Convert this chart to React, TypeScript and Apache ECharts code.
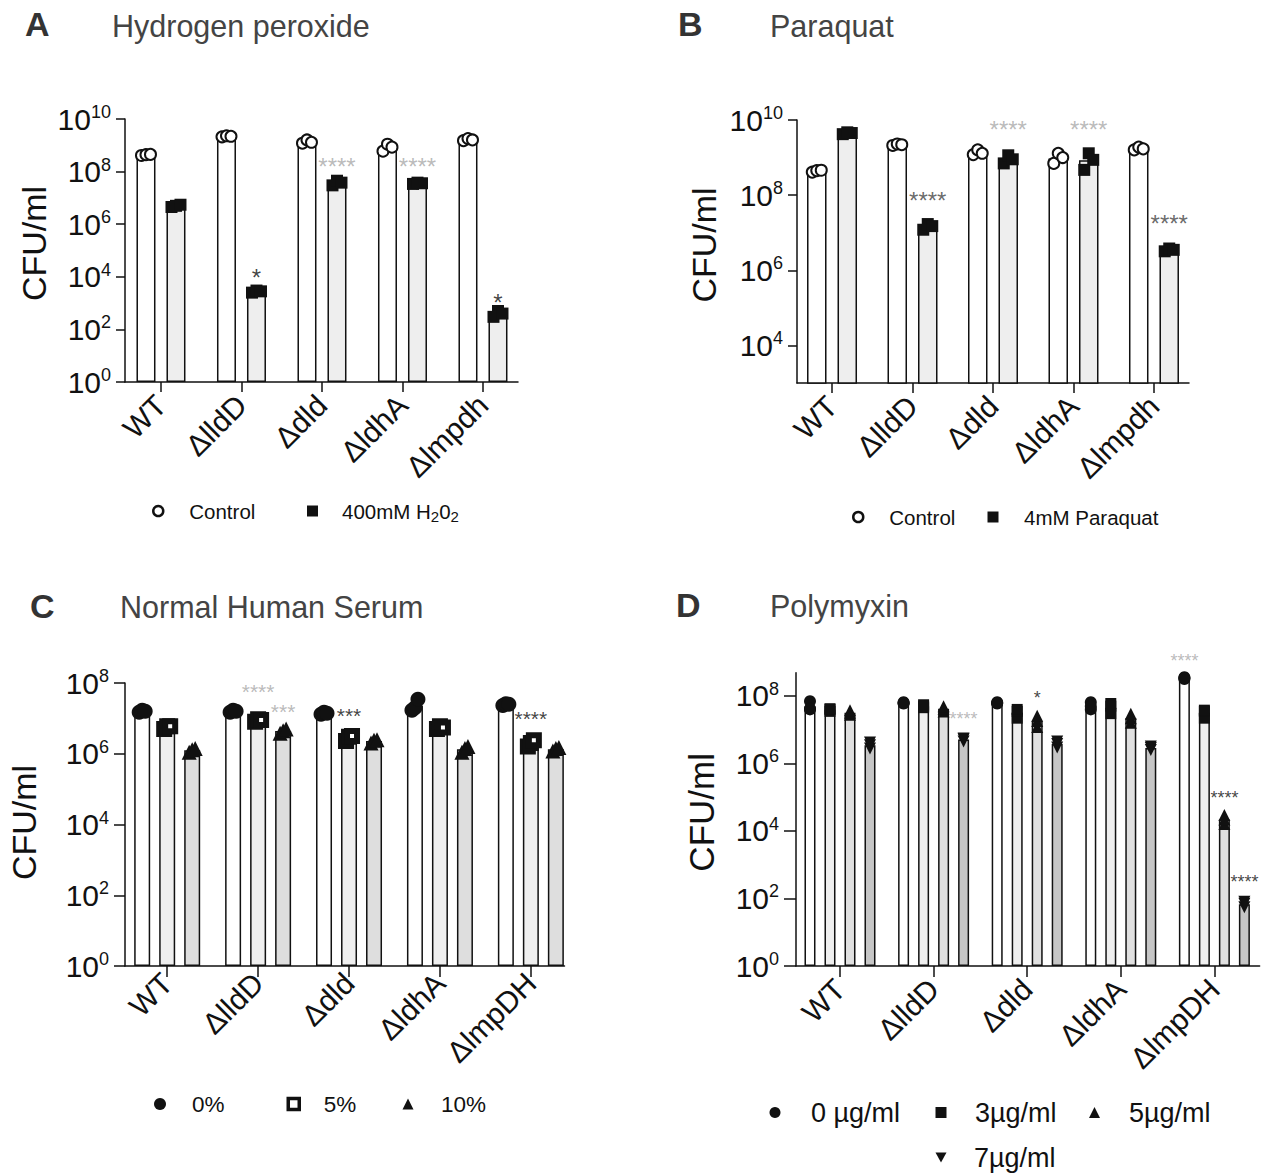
import React, { useEffect, useRef } from 'react';
import * as echarts from 'echarts';

const FONT = '"Liberation Sans", Arial, Helvetica, sans-serif';
const INK = '#111111';
const TONES: Record<string, string> = { black: '#111111', gray: '#a9a9a9', dark: '#444444' };

// ---------- categories & ticks ----------
const catsAB = ['WT', 'ΔlldD', 'Δdld', 'ΔldhA', 'Δlmpdh'];
const catsCD = ['WT', 'ΔlldD', 'Δdld', 'ΔldhA', 'ΔlmpDH'];
const yTicksA = [0, 2, 4, 6, 8, 10];
const yTicksB = [4, 6, 8, 10];
const yTicksCD = [0, 2, 4, 6, 8];

// ---------- A: Hydrogen peroxide (CFU/ml) ----------
const aControlMean = [4.3e8, 2.2e9, 1.35e9, 8.5e8, 1.6e9];
const aControlReps = [[4.1e8, 4.4e8, 4.5e8], [2.1e9, 2.3e9, 2.2e9], [1.2e9, 1.6e9, 1.3e9], [6e8, 1.1e9, 8.5e8], [1.5e9, 1.8e9, 1.6e9]];
const aH2O2Mean = [5e6, 2.8e3, 3.8e7, 3.6e7, 4e2];
const aH2O2Reps = [[4.5e6, 5e6, 5.5e6], [2.5e3, 3e3, 2.8e3], [3e7, 4.5e7, 3.8e7], [3.4e7, 3.8e7, 3.6e7], [3e2, 5e2, 4e2]];
const aStars = [
  { cat: 1, bar: 1, level: 1.5e4, text: '*', tone: 'black' },
  { cat: 2, bar: 1, level: 2.5e8, text: '****', tone: 'gray' },
  { cat: 3, bar: 1, level: 2.5e8, text: '****', tone: 'gray' },
  { cat: 4, bar: 1, level: 1.7e3, text: '*', tone: 'black' },
];

// ---------- B: Paraquat ----------
const bControlMean = [4.4e8, 2.2e9, 1.35e9, 9.5e8, 1.7e9];
const bControlReps = [[4.1e8, 4.5e8, 4.6e8], [2.1e9, 2.3e9, 2.2e9], [1.2e9, 1.6e9, 1.3e9], [7e8, 1.3e9, 1e9], [1.6e9, 1.9e9, 1.7e9]];
const bParaquatMean = [4.5e9, 1.45e7, 9e8, 8.5e8, 3.5e6];
const bParaquatReps = [[4.2e9, 4.7e9, 4.5e9], [1.2e7, 1.7e7, 1.5e7], [7e8, 1.15e9, 9e8], [4.7e8, 1.3e9, 8.7e8], [3.2e6, 3.8e6, 3.5e6]];
const bStars = [
  { cat: 1, bar: 1, level: 1e8, text: '****', tone: 'dark' },
  { cat: 2, bar: 1, level: 7.9e9, text: '****', tone: 'gray' },
  { cat: 3, bar: 1, level: 7.9e9, text: '****', tone: 'gray' },
  { cat: 4, bar: 1, level: 2.5e7, text: '****', tone: 'dark' },
];

// ---------- C: Normal Human Serum ----------
const cNhs0Mean = [1.6e7, 1.6e7, 1.4e7, 2.3e7, 2.5e7];
const cNhs0Reps = [[1.5e7, 1.7e7, 1.6e7], [1.5e7, 1.7e7, 1.6e7], [1.3e7, 1.5e7, 1.4e7], [1.7e7, 2e7, 3.5e7], [2.3e7, 2.6e7, 2.5e7]];
const cNhs5Mean = [5.7e6, 9e6, 2.8e6, 5.5e6, 2e6];
const cNhs5Reps = [[5e6, 6e6, 6e6], [8e6, 9.5e6, 9e6], [2.3e6, 3e6, 3.2e6], [5e6, 6e6, 5.5e6], [1.6e6, 2e6, 2.4e6]];
const cNhs10Mean = [1.25e6, 4.4e6, 2.3e6, 1.35e6, 1.35e6];
const cNhs10Reps = [[1.1e6, 1.3e6, 1.4e6], [3.8e6, 4.5e6, 5e6], [2e6, 2.4e6, 2.5e6], [1.1e6, 1.4e6, 1.6e6], [1.2e6, 1.4e6, 1.5e6]];
const cStars = [
  { cat: 1, bar: 1, level: 7.8e7, text: '****', tone: 'gray' },
  { cat: 1, bar: 2, level: 2.1e7, text: '***', tone: 'gray' },
  { cat: 2, bar: 1, level: 1.6e7, text: '***', tone: 'black' },
  { cat: 4, bar: 1, level: 1.4e7, text: '****', tone: 'black' },
];

// ---------- D: Polymyxin ----------
const dPmx0Mean = [5e7, 6.2e7, 6.2e7, 5e7, 3.4e8];
const dPmx0Reps = [[7e7, 4e7, 4.2e7], [6e7, 6.5e7, 6.2e7], [6e7, 6.5e7, 6.2e7], [4e7, 6.5e7, 5e7], [3.2e8, 3.6e8, 3.4e8]];
const dPmx3Mean = [3.9e7, 5e7, 3.2e7, 4.5e7, 3.2e7];
const dPmx3Reps = [[3.5e7, 4e7, 4.2e7], [4.5e7, 5.5e7, 5e7], [2.2e7, 3.5e7, 4e7], [3e7, 6e7, 5e7], [2.2e7, 3.5e7, 3.8e7]];
const dPmx5Mean = [3.2e7, 4.2e7, 1.8e7, 2.2e7, 2.2e4];
const dPmx5Reps = [[2.8e7, 3.2e7, 3.8e7], [3.5e7, 4.2e7, 5e7], [1.2e7, 1.8e7, 2.6e7], [1.6e7, 2.2e7, 3e7], [1.6e4, 2.2e4, 3e4]];
const dPmx7Mean = [3.5e6, 5.1e6, 3.8e6, 2.9e6, 68];
const dPmx7Reps = [[2.8e6, 3.5e6, 4.2e6], [4.5e6, 5.2e6, 5.5e6], [3e6, 3.8e6, 4.5e6], [2.5e6, 2.9e6, 3.2e6], [55, 70, 80]];
const dStars = [
  { cat: 1, bar: 3, level: 2.75e7, text: '****', tone: 'gray' },
  { cat: 2, bar: 2, level: 1.15e8, text: '*', tone: 'black' },
  { cat: 4, bar: 0, level: 1.45e9, text: '****', tone: 'gray' },
  { cat: 4, bar: 2, level: 1.26e5, text: '****', tone: 'black' },
  { cat: 4, bar: 3, level: 4.1e2, text: '****', tone: 'black' },
];

// ---------- panel layout ----------
const panels = [
  {
    key: 'A', cats: catsAB, left: 125, top: 119, width: 393, height: 263,
    xMin: -0.447, xMax: 4.435, yMin: 0, yMax: 10, yTicks: yTicksA,
    barWidth: 19, barGap: 11, jitter: 4.5, yTick: 9, yLabelMargin: 14, xTick: 10, xLabelMargin: 18,
    nameGap: 74, nameSize: 34, nameShift: 14, starSize: 24, stars: aStars,
    groups: [
      { id: 'A0', means: aControlMean, reps: aControlReps, fill: '#ffffff', symbol: 'circle', size: 11, color: '#ffffff', bw: 2 },
      { id: 'A1', means: aH2O2Mean, reps: aH2O2Reps, fill: '#eeeeee', symbol: 'rect', size: 12, color: INK, bw: 0 },
    ],
  },
  {
    key: 'B', cats: catsAB, left: 797, top: 120, width: 392, height: 263,
    xMin: -0.435, xMax: 4.435, yMin: 3, yMax: 10, yTicks: yTicksB,
    barWidth: 19.5, barGap: 11, jitter: 4.5, yTick: 9, yLabelMargin: 14, xTick: 10, xLabelMargin: 18,
    nameGap: 76, nameSize: 34, nameShift: 13, starSize: 24, stars: bStars,
    groups: [
      { id: 'B0', means: bControlMean, reps: bControlReps, fill: '#ffffff', symbol: 'circle', size: 11, color: '#ffffff', bw: 2 },
      { id: 'B1', means: bParaquatMean, reps: bParaquatReps, fill: '#eeeeee', symbol: 'rect', size: 12, color: INK, bw: 0 },
    ],
  },
  {
    key: 'C', cats: catsCD, left: 125, top: 683, width: 439.5, height: 283,
    xMin: -0.464, xMax: 4.37, yMin: 0, yMax: 8, yTicks: yTicksCD,
    barWidth: 16, barGap: 9, jitter: 3, yTick: 11, yLabelMargin: 16, xTick: 11, xLabelMargin: 12,
    nameGap: 84, nameSize: 34, nameShift: 4, starSize: 21, stars: cStars,
    groups: [
      { id: 'C0', means: cNhs0Mean, reps: cNhs0Reps, fill: '#ffffff', symbol: 'circle', size: 15, color: INK, bw: 0 },
      { id: 'C1', means: cNhs5Mean, reps: cNhs5Reps, fill: '#efefef', symbol: 'rect', size: 10, color: '#ffffff', bw: 6 },
      { id: 'C2', means: cNhs10Mean, reps: cNhs10Reps, fill: '#dedede', symbol: 'triangle', size: 15, color: INK, bw: 0 },
    ],
  },
  {
    key: 'D', cats: catsCD, left: 796, top: 672.7, width: 463.6, height: 293.3,
    xMin: -0.47, xMax: 4.483, yMin: 0, yMax: 8.69, yTicks: yTicksCD,
    barWidth: 11, barGap: 9, jitter: 0, yTick: 12, yLabelMargin: 17, xTick: 11, xLabelMargin: 18,
    nameGap: 77, nameSize: 35, nameShift: 14, starSize: 18, stars: dStars,
    groups: [
      { id: 'D0', means: dPmx0Mean, reps: dPmx0Reps, fill: '#ffffff', symbol: 'circle', size: 12, color: INK, bw: 0 },
      { id: 'D1', means: dPmx3Mean, reps: dPmx3Reps, fill: '#efefef', symbol: 'rect', size: 11, color: INK, bw: 0 },
      { id: 'D2', means: dPmx5Mean, reps: dPmx5Reps, fill: '#e0e0e0', symbol: 'triangle', size: 12, color: INK, bw: 0 },
      { id: 'D3', means: dPmx7Mean, reps: dPmx7Reps, fill: '#c6c6c6', symbol: 'triangle', size: 12, color: INK, bw: 0, rotate: 180 },
    ],
  },
];

const titleLayout = [
  { text: 'A', left: 25, cy: 24, bold: true },
  { text: 'Hydrogen peroxide', left: 112, cy: 25.5 },
  { text: 'B', left: 678, cy: 24, bold: true },
  { text: 'Paraquat', left: 770, cy: 25.5 },
  { text: 'C', left: 30, cy: 606, bold: true },
  { text: 'Normal Human Serum', left: 120, cy: 607 },
  { text: 'D', left: 676, cy: 605, bold: true },
  { text: 'Polymyxin', left: 770, cy: 606 },
];

const legendLayout = [
  { id: 'A0', text: 'Control', icon: 'circle', cx: 157, cy: 511, size: 10, fs: 20.5, tx: 188, hollow: true },
  { id: 'A1', text: '400mM H{sub|2}0{sub|2}', icon: 'rect', cx: 312.5, cy: 511, size: 11, fs: 20.5, tx: 342 },
  { id: 'B0', text: 'Control', icon: 'circle', cx: 857, cy: 517, size: 10, fs: 20.5, tx: 888, hollow: true },
  { id: 'B1', text: '4mM Paraquat', icon: 'rect', cx: 993, cy: 517, size: 11, fs: 20.5, tx: 1024 },
  { id: 'C0', text: '0%', icon: 'circle', cx: 160, cy: 1104, size: 12, fs: 22.5, tx: 192 },
  { id: 'C1', text: '5%', icon: 'rect', cx: 292, cy: 1104, size: 11, fs: 22.5, tx: 322, hollow: true },
  { id: 'C2', text: '10%', icon: 'triangle', cx: 408, cy: 1104, size: 11, fs: 22.5, tx: 441 },
  { id: 'D0', text: '0 µg/ml', icon: 'circle', cx: 775, cy: 1112, size: 11, fs: 27, tx: 811 },
  { id: 'D1', text: '3µg/ml', icon: 'rect', cx: 941, cy: 1112, size: 11, fs: 27, tx: 975 },
  { id: 'D2', text: '5µg/ml', icon: 'triangle', cx: 1094.5, cy: 1112, size: 11, fs: 27, tx: 1129 },
  { id: 'D3', text: '7µg/ml', icon: 'path://M0,0L10,0L5,9Z', cx: 941, cy: 1157, size: 11, fs: 27, tx: 974 },
];

function buildOption() {
  const grid: any[] = [];
  const xAxis: any[] = [];
  const yAxis: any[] = [];
  const series: any[] = [];

  panels.forEach((p, gi) => {
    const n = p.groups.length;
    const pitch = p.barWidth + p.barGap;
    const off = (k: number) => (k - (n - 1) / 2) * pitch;
    const lineStyle = { color: INK, width: 1.5 };
    const catIdx = p.cats.map((_, i) => i);

    grid.push({ left: p.left, top: p.top, width: p.width, height: p.height, containLabel: false });
    xAxis.push({
      type: 'value', gridIndex: gi, min: p.xMin, max: p.xMax,
      axisLine: { show: true, onZero: false, lineStyle },
      axisTick: { show: true, length: p.xTick, lineStyle, customValues: catIdx },
      axisLabel: {
        show: true, customValues: catIdx, formatter: (v: number) => p.cats[Math.round(v)],
        rotate: 45, fontSize: 30, fontFamily: FONT, color: INK, margin: p.xLabelMargin,
      },
      splitLine: { show: false },
    });
    yAxis.push({
      type: 'value', gridIndex: gi, min: p.yMin, max: p.yMax,
      axisLine: { show: true, onZero: false, lineStyle },
      axisTick: { show: true, length: p.yTick, lineStyle, customValues: p.yTicks },
      axisLabel: {
        show: true, customValues: p.yTicks, formatter: (v: number) => `10{s|${Math.round(v)}}`,
        fontSize: 30, lineHeight: 32, fontFamily: FONT, color: INK, margin: p.yLabelMargin,
        rich: { s: { fontSize: 18, lineHeight: 20, verticalAlign: 'top', fontFamily: FONT, color: INK } },
      },
      splitLine: { show: false },
      name: 'CFU/ml', nameLocation: 'middle', nameRotate: 90, nameGap: p.nameGap,
      nameTextStyle: { fontSize: p.nameSize, fontFamily: FONT, color: INK, padding: [0, 0, 0, p.nameShift] },
    });

    p.groups.forEach((g: any, k: number) => {
      series.push({
        type: 'bar', name: `${g.id}-bar`, xAxisIndex: gi, yAxisIndex: gi,
        data: g.means.map((v: number, i: number) => [i, Math.log10(v)]),
        barWidth: p.barWidth, barGap: `${(p.barGap / p.barWidth) * 100}%`,
        itemStyle: { color: g.fill, borderColor: INK, borderWidth: 1.5 },
        clip: true, silent: true, z: 2,
      });
      const pts: any[] = [];
      g.reps.forEach((rs: number[], i: number) =>
        rs.forEach((r, j) =>
          pts.push({ value: [i, Math.log10(r)], symbolOffset: [off(k) + (j - (rs.length - 1) / 2) * p.jitter, 0] })
        )
      );
      series.push({
        type: 'scatter', name: g.id, xAxisIndex: gi, yAxisIndex: gi, data: pts,
        symbol: g.symbol, symbolSize: g.size, symbolRotate: g.rotate || 0,
        itemStyle: { color: g.color, borderColor: INK, borderWidth: g.bw, opacity: 1 },
        z: 3, silent: true, clip: false,
      });
    });

    series.push({
      type: 'scatter', name: `${p.key}-stars`, xAxisIndex: gi, yAxisIndex: gi, silent: true, clip: false, z: 4,
      symbolSize: 1, itemStyle: { color: 'rgba(0,0,0,0)' },
      data: p.stars.map((s) => ({
        value: [s.cat, Math.log10(s.level)],
        symbolOffset: [off(s.bar), 0],
        label: { show: true, formatter: s.text, color: TONES[s.tone] },
      })),
      label: { show: true, position: 'inside', fontSize: p.starSize, fontFamily: FONT, offset: [0, p.starSize * 0.23] },
    });
  });

  const legend = legendLayout.map((l) => {
    const lh = 26;
    return {
      show: true, selectedMode: false, padding: 0, orient: 'horizontal',
      left: l.cx - l.size / 2, top: l.cy - lh / 2,
      itemWidth: l.size, itemHeight: l.size,
      data: [{ name: l.id, icon: l.icon }],
      formatter: () => l.text,
      itemStyle: l.hollow
        ? { color: '#ffffff', borderColor: INK, borderWidth: l.icon === 'rect' ? 3.5 : 2.5 }
        : { color: INK, borderColor: INK, borderWidth: 0 },
      textStyle: {
        fontSize: l.fs, fontFamily: FONT, color: INK, lineHeight: lh,
        padding: [0, 0, 0, l.tx - (l.cx + l.size / 2) - 5],
        rich: { sub: { fontSize: 15, lineHeight: 12, verticalAlign: 'bottom', fontFamily: FONT, color: INK } },
      },
    };
  });

  const title = titleLayout.map((t) => {
    const fs = t.bold ? 34 : 30.5;
    return {
      text: t.text, left: t.left, top: t.cy - fs / 2, padding: 0,
      textStyle: { fontSize: fs, lineHeight: fs, fontWeight: t.bold ? 'bold' : 'normal', color: t.bold ? '#333333' : '#444444', fontFamily: FONT },
    };
  });

  return {
    animation: false,
    backgroundColor: '#ffffff',
    textStyle: { fontFamily: FONT },
    title, legend, grid, xAxis, yAxis, series,
  };
}

export default function App() {
  const ref = useRef<HTMLDivElement>(null);
  useEffect(() => {
    const chart = echarts.init(ref.current as HTMLDivElement, null, { renderer: 'svg' });
    chart.setOption(buildOption() as any);
    return () => chart.dispose();
  }, []);
  return <div ref={ref} style={{ position: 'absolute', left: 0, top: 0, width: 1272, height: 1173, background: '#fff' }} />;
}
